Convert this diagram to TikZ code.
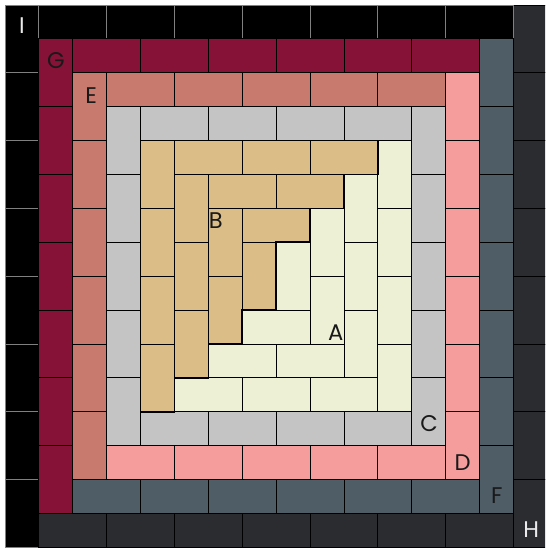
\documentclass[tikz,border=0pt]{standalone}
\usepackage{fontspec}
\setmainfont{Poppins}
\usepackage{tikz}
\usetikzlibrary{calc}

\definecolor{nero}{HTML}{000000}
\definecolor{bordonero}{HTML}{808080}
\definecolor{antracite}{HTML}{2B2C30}
\definecolor{cremisi}{HTML}{861237}
\definecolor{ardesia}{HTML}{4F5D67}
\definecolor{salmone}{HTML}{C97A6E}
\definecolor{rosa}{HTML}{F59C9C}
\definecolor{grigioc}{HTML}{C4C4C4}
\definecolor{sabbia}{HTML}{DBBD87}
\definecolor{crema}{HTML}{EEF0D6}

\begin{document}
\begin{tikzpicture}[
  font=\fontsize{19}{19}\selectfont,
  tessera/.style={draw=black, line width=0.7pt},
  contorno/.style={draw=black, line width=1.4pt},
  etichetta/.style={inner sep=0pt, text=black!90},
  etichettachiara/.style={inner sep=0pt, text=white!92!black}
]

\useasboundingbox (-0.147,-0.018) rectangle (15.93,16.147);
\clip (-0.147,-0.018) rectangle (15.93,16.147);

%--------------------------------------------------------------
% Anelli di tessere: colonna + riga per ciascun colore
%--------------------------------------------------------------
\foreach \k/\ca/\cb/\ba in {%
  0/nero/antracite/bordonero,
  1/cremisi/ardesia/black,
  2/salmone/rosa/black,
  3/grigioc/grigioc/black,
  4/sabbia/crema/black,
  5/sabbia/crema/black,
  6/sabbia/crema/black,
  7/sabbia/crema/black}{
  \pgfmathtruncatemacro{\n}{7-\k}
  \foreach \j in {0,...,\n}{
    \draw[tessera, fill=\ca, draw=\ba] (\k,16-\k-2*\j) rectangle ++(1,-2);
    \draw[tessera, fill=\cb] (15-\k,16-\k-2*\j) rectangle ++(1,-2);
  }
  \ifnum\k<7
    \pgfmathtruncatemacro{\m}{6-\k}
    \foreach \j in {0,...,\m}{
      \draw[tessera, fill=\ca, draw=\ba] (\k+1+2*\j,16-\k) rectangle ++(2,-1);
      \draw[tessera, fill=\cb] (\k+1+2*\j,\k+1) rectangle ++(2,-1);
    }
  \fi
}

%--------------------------------------------------------------
% Contorno a gradini della zona B
%--------------------------------------------------------------
\draw[contorno] (4,12) -- (11,12) -- (11,11) -- (10,11) -- (10,10)
  -- (9,10) -- (9,9) -- (8,9) -- (8,7) -- (7,7) -- (7,6) -- (6,6)
  -- (6,5) -- (5,5) -- (5,4) -- (4,4) -- cycle;

%--------------------------------------------------------------
% Lettere
%--------------------------------------------------------------
\node[etichettachiara] (lblI) at (0.50,15.38) {I};
\node[etichetta] (lblG) at (1.50,14.35) {G};
\node[etichetta] (lblE) at (2.54,13.32) {E};
\node[etichetta] (lblB) at (6.22,9.63) {B};
\node[etichetta] (lblA) at (9.76,6.32) {A};
\node[etichetta] (lblC) at (12.51,3.64) {C};
\node[etichetta] (lblD) at (13.50,2.50) {D};
\node[etichetta] (lblF) at (14.51,1.52) {F};
\node[etichettachiara] (lblH) at (15.52,0.51) {H};

\end{tikzpicture}
\end{document}
